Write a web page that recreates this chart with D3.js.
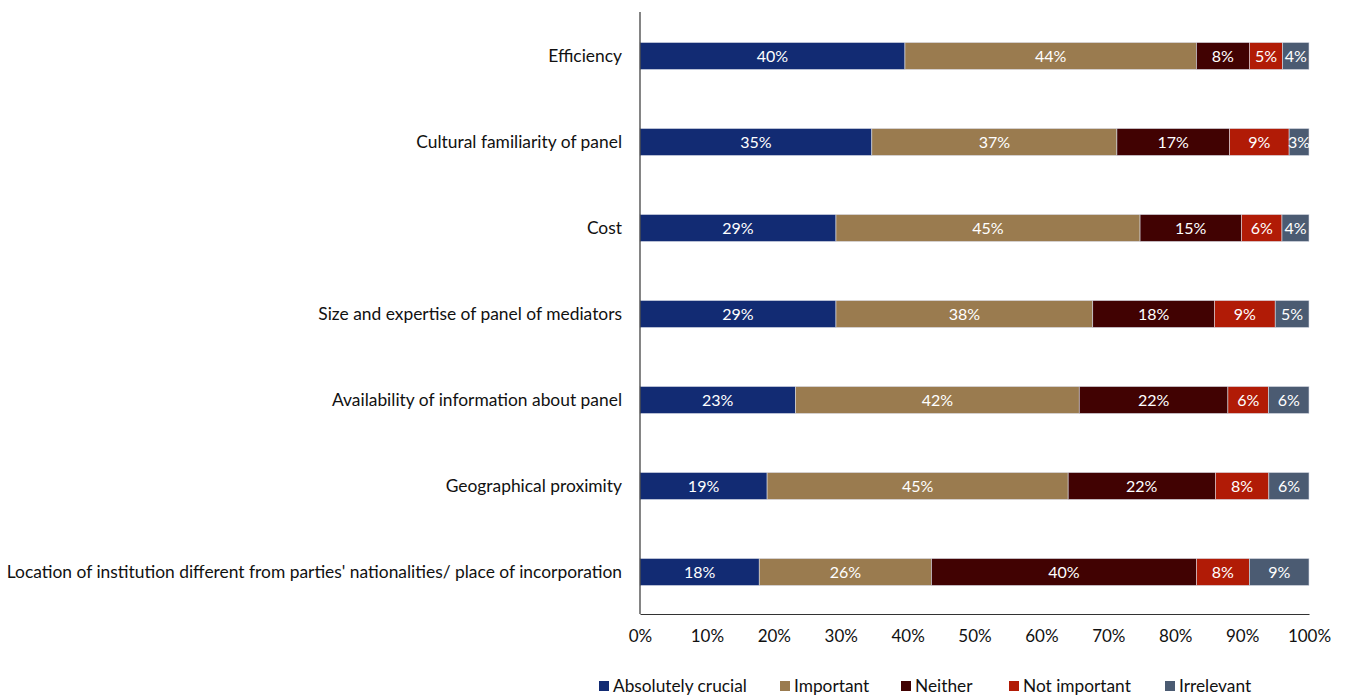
<!DOCTYPE html>
<html>
<head>
<meta charset="utf-8">
<script src="https://cdn.jsdelivr.net/npm/d3@7"></script>
<style>
  html, body { margin: 0; padding: 0; background: #fff; }
  svg { display: block; font-family: "Lato", "Open Sans", sans-serif; }
</style>
</head>
<body>
<svg id="chart" width="1348" height="697"></svg>
<script>
// Survey factors, top to bottom
const factors = [
  "Efficiency",
  "Cultural familiarity of panel",
  "Cost",
  "Size and expertise of panel of mediators",
  "Availability of information about panel",
  "Geographical proximity",
  "Location of institution different from parties' nationalities/ place of incorporation"
];

const seriesNames = ["Absolutely crucial", "Important", "Neither", "Not important", "Irrelevant"];

// Reported percentages per series (one per factor)
const absolutelyCrucial = [40, 35, 29, 29, 23, 19, 18];
const important         = [44, 37, 45, 38, 42, 45, 26];
const neither           = [8, 17, 15, 18, 22, 22, 40];
const notImportant      = [5, 9, 6, 9, 6, 8, 8];
const irrelevant        = [4, 3, 4, 5, 6, 6, 9];

const tickValues = [0, 10, 20, 30, 40, 50, 60, 70, 80, 90, 100];

const colors = ["#122b73", "#9a7b4f", "#410202", "#b11b06", "#4b5b72"];

const seriesValues = [absolutelyCrucial, important, neither, notImportant, irrelevant];

// Rows: each bar is scaled to fill 100% of its row
const rows = factors.map((f, i) => {
  const vals = seriesValues.map(s => s[i]);
  const total = d3.sum(vals);
  let acc = 0;
  const segs = vals.map((v, k) => {
    const s = { factor: f, key: seriesNames[k], value: v, x0: acc / total * 100, x1: (acc + v) / total * 100, color: colors[k] };
    acc += v;
    return s;
  });
  return { factor: f, segs };
});

const svg = d3.select("#chart");
const plotLeft = 640, plotRight = 1309, plotTop = 13, plotBottom = 615;

const x = d3.scaleLinear().domain([0, 100]).range([plotLeft, plotRight]);
const y = d3.scaleBand().domain(factors).range([plotTop, plotBottom]).paddingInner(0.686).paddingOuter(0.343);

// Bars
const g = svg.append("g");
const row = g.selectAll("g.row").data(rows).join("g").attr("class", "row");
row.selectAll("rect").data(d => d.segs).join("rect")
  .attr("x", d => x(d.x0))
  .attr("y", d => y(d.factor))
  .attr("width", d => x(d.x1) - x(d.x0))
  .attr("height", y.bandwidth())
  .attr("fill", d => d.color)
  .attr("stroke", "#d9dde6")
  .attr("stroke-width", 0.6);

row.selectAll("text").data(d => d.segs).join("text")
  .attr("x", d => (x(d.x0) + x(d.x1)) / 2)
  .attr("y", d => y(d.factor) + y.bandwidth() / 2)
  .attr("dy", "0.35em")
  .attr("text-anchor", "middle")
  .attr("fill", "#ffffff")
  .attr("font-size", 16)
  .text(d => d.value + "%");

// Category labels
svg.append("g").selectAll("text").data(factors).join("text")
  .attr("x", plotLeft - 18)
  .attr("y", d => y(d) + y.bandwidth() / 2)
  .attr("dy", "0.35em")
  .attr("text-anchor", "end")
  .attr("fill", "#111")
  .attr("font-size", 17.4)
  .text(d => d);

// Axes
const xAxis = svg.append("g")
  .attr("transform", `translate(0,${plotBottom - 1})`)
  .call(d3.axisBottom(x).tickValues(tickValues).tickSize(0).tickPadding(16).tickFormat(d => d + "%"));
xAxis.select(".domain").attr("stroke", "#333").attr("stroke-width", 1.2);
xAxis.selectAll("text").attr("font-size", 17).attr("fill", "#111").attr("font-family", "Lato, sans-serif");

svg.append("line")
  .attr("x1", plotLeft).attr("x2", plotLeft)
  .attr("y1", 12).attr("y2", plotBottom - 1)
  .attr("stroke", "#333").attr("stroke-width", 1.2);

// Legend
const legendX = [599, 780, 901, 1009, 1165];
const legend = svg.append("g").selectAll("g").data(seriesNames).join("g")
  .attr("transform", (d, i) => `translate(${legendX[i]},686)`);
legend.append("rect").attr("x", 0).attr("y", -5).attr("width", 10).attr("height", 10)
  .attr("fill", (d, i) => colors[i]);
legend.append("text").attr("x", 14).attr("y", 0).attr("dy", "0.35em")
  .attr("font-size", 17.3).attr("fill", "#111").text(d => d);
</script>
</body>
</html>
